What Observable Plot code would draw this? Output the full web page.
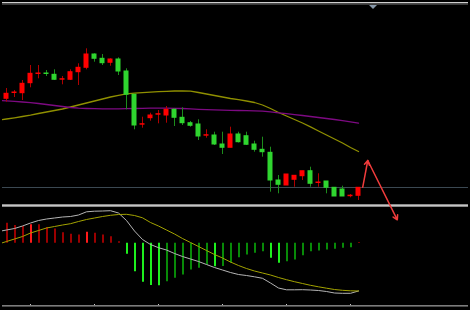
<!DOCTYPE html>
<html><head><meta charset="utf-8">
<script src="https://cdn.jsdelivr.net/npm/d3@7"></script>
<script src="https://cdn.jsdelivr.net/npm/@observablehq/plot@0.6"></script>
<style>
html,body{margin:0;padding:0;background:#000;overflow:hidden;}
#chart{position:relative;width:470px;height:310px;background:#000;clip-path:inset(0px 2px 0px 2px);}
#chart > *{position:absolute;left:0;}
.bar{position:absolute;left:0;width:470px;height:1px;}
</style></head><body><div id="chart"></div>
<script>
// ---- candle data (bar index 0..44), arbitrary price units ----
const open  = [111.7,117.5,117.3,127.3,136.5,137,135.7,130.8,130.7,138.3,142.7,156,151.7,147.7,151,139,115.7,85.8,92.3,95.8,95,100.7,92.7,87.3,86,74.8,75,66,62.7,76,74.3,66,60.7,57.7,30,25,30.7,34.3,39.3,27.5,29,22.7,21,14.3,14.7];
const high  = [122,120,130,145,145,140,140.7,134,140.7,146.7,161.7,156.7,156,151.7,152.7,141.7,115.7,93.3,97.3,100,104,101.7,102.7,89,90.7,80.7,78.3,78.3,83.3,78.3,78.3,69.3,73.3,63.3,35,36,35,39.3,43.3,36.7,29,22.7,24.3,16,22.7];
const low   = [108.3,113,110,122.7,131.7,134,130,125.7,130,125,140.7,148.3,145,144.3,135,100.7,80.7,82.3,89.3,86.7,87.3,84,85,83.3,70,72.3,65,56,62.7,67.5,65,58.3,53.3,18.3,16.7,25,23.3,30,23.3,23.3,16.7,14,14,12.7,10];
const close = [116.7,118,126.7,136.7,137,136.5,130.7,131.3,138.3,142.7,156,151.7,147.3,151,139,115.7,85,86.3,95,96.3,100.7,92.7,87.3,84.7,74,75.3,66,62.7,76,68.3,65.7,60.7,58.3,30,25.7,36,34.7,39.3,26.7,28,22.7,14,14,14.8,22.7];

// ---- moving averages (bar index -1..44) ----
const maFast = [90.3,91.5,92.7,94,95.4,97,98.5,100,101.5,103.5,105.5,107.5,109.5,111.5,113.5,115.2,116.7,117.3,117.8,118.3,118.8,119.2,119.5,119.5,119.3,118,116.5,115,113.5,112,110.8,109.5,108,105.5,102,98,94.5,91,87.5,83.7,79.5,75.5,71.5,67.5,63,59];
const maSlow = [110,109.7,109.2,108.5,107.8,107,106,105,104,103,102.3,102,101.8,101.7,101.7,101.7,101.8,102,102.2,102.3,102.3,102.3,102.2,102,101.6,101.2,100.9,100.6,100.4,100.2,100,99.8,99.6,99.4,98.6,97.7,96.8,95.9,95,94,93,92,91,89.8,88.6,87.3];

// horizontal price level and drawn arrow (bar index, price)
const levelPrice = 23;
const arrowK = [44.53, 45.16, 48.85];
const arrowP = [23.3, 50, -9.3];

// ---- oscillator (histogram index 0..44, lines index -1..44) ----
const macdHist = [2.00,1.78,1.68,1.86,1.85,1.58,1.43,1.06,0.90,0.83,1.10,1.00,0.83,0.66,0.16,-1.09,-2.84,-3.90,-4.23,-4.24,-3.84,-3.50,-3.17,-2.67,-2.50,-2.17,-2.34,-2.32,-2.00,-1.44,-1.17,-1.00,-0.84,-1.50,-2.00,-1.84,-1.67,-1.24,-0.84,-0.77,-0.67,-0.60,-0.50,-0.44,0.08];
const macdMain = [1.18,1.33,1.48,1.73,2.03,2.28,2.43,2.53,2.63,2.68,2.83,3.15,3.21,3.23,3.26,3.03,2.28,1.23,0.38,-0.12,-0.44,-0.67,-1.02,-1.32,-1.57,-1.82,-2.12,-2.42,-2.67,-2.92,-3.12,-3.22,-3.35,-3.50,-3.97,-4.47,-4.65,-4.65,-4.64,-4.67,-4.72,-4.82,-4.97,-5.00,-5.00,-4.77];
const macdSignal = [-0.07,0.18,0.43,0.68,1.03,1.28,1.53,1.68,1.83,1.96,2.18,2.38,2.53,2.68,2.80,2.88,2.90,2.78,2.55,2.08,1.73,1.33,0.93,0.48,0.08,-0.32,-0.72,-1.12,-1.47,-1.87,-2.22,-2.52,-2.77,-2.97,-3.17,-3.42,-3.64,-3.84,-4.02,-4.20,-4.35,-4.49,-4.62,-4.70,-4.75,-4.77];
const timeTicks = [3, 11, 19, 27, 35, 43];

// ---- build tables ----
const candles = open.map((o, i) => ({k: i, open: o, high: high[i], low: low[i], close: close[i], up: close[i] > o}));
const lineIdx = d3.range(-1, 45);
const maRows = lineIdx.map((k, i) => ({k, fast: maFast[i], slow: maSlow[i]}));
const oscRows = lineIdx.map((k, i) => ({k, main: macdMain[i], signal: macdSignal[i]}));
const histRows = macdHist.map((v, i) => {
  const grow = i > 0 && Math.abs(v) > Math.abs(macdHist[i - 1]);
  const color = v >= 0 ? (grow ? "#ff1a1a" : "#9b0000") : (grow ? "#1ef01e" : "#088a08");
  return {k: i, v, color};
});
const arrows = [
  {x1: arrowK[0], y1: arrowP[0], x2: arrowK[1], y2: arrowP[1]},
  {x1: arrowK[1], y1: arrowP[1], x2: arrowK[2], y2: arrowP[2]}
];

const xDomain = [-0.75, 58];
const root = document.getElementById("chart");

// lower panel
const lower = Plot.plot({
  width: 470, height: 107,
  marginTop: 0, marginRight: 0, marginBottom: 6, marginLeft: 0,
  x: {domain: xDomain, ticks: timeTicks, tickSize: 2, tickFormat: () => "", label: null},
  y: {domain: [-6.12, 3.98], axis: null},
  color: {type: "identity"},
  style: {background: "transparent", color: "#c8c8c8", overflow: "visible"},
  marks: [
    Plot.ruleX(histRows, {x: "k", y1: 0, y2: "v", stroke: "color", strokeWidth: 2, dx: 0.5}),
    Plot.lineY(oscRows, {x: "k", y: "main", stroke: "#b4b4b4", strokeWidth: 1}),
    Plot.lineY(oscRows, {x: "k", y: "signal", stroke: "#a3a300", strokeWidth: 1})
  ]
});
lower.style.top = "203px";
root.appendChild(lower);

// frame chrome
function bar(top, color) {
  const d = document.createElement("div");
  d.className = "bar"; d.style.top = top + "px"; d.style.background = color;
  root.appendChild(d);
}
bar(2, "#cfcfcf"); bar(3, "#4a4a4a"); bar(4, "#3a3a3a");
bar(204, "#8a8a8a"); bar(205, "#c4c4c4"); bar(206, "#8a8a8a");
bar(305, "#7c7c7c"); bar(306, "#4a4a4a");
const tri = document.createElement("div");
Object.assign(tri.style, {left: "369px", top: "5px", width: "0", height: "0",
  borderLeft: "4px solid transparent", borderRight: "4px solid transparent", borderTop: "4px solid #8797a8"});
root.appendChild(tri);

// upper panel
const upper = Plot.plot({
  width: 470, height: 310,
  marginTop: 0, marginRight: 0, marginBottom: 105, marginLeft: 0,
  x: {domain: xDomain, axis: null},
  y: {domain: [5, 210], axis: null},
  color: {type: "identity"},
  style: {background: "transparent", overflow: "visible"},
  marks: [
    Plot.ruleY([levelPrice], {stroke: "#3b4852", strokeWidth: 1}),
    Plot.lineY(maRows, {x: "k", y: "fast", stroke: "#8f8f00", strokeWidth: 1.3}),
    Plot.lineY(maRows, {x: "k", y: "slow", stroke: "#7d0a82", strokeWidth: 1.3}),
    Plot.ruleX(candles, {x: "k", y1: "low", y2: "high", stroke: d => d.up ? "#b00000" : "#1c8c1c", strokeWidth: 1}),
    Plot.rect(candles, {x1: d => d.k - 0.3125, x2: d => d.k + 0.3125, y1: "open", y2: "close",
      fill: d => d.up ? "#ff0000" : "#2fd52f", insetTop: -0.5, insetBottom: -0.5}),
    Plot.arrow(arrows, {x1: "x1", y1: "y1", x2: "x2", y2: "y2", stroke: "#f03c3c", strokeWidth: 1.5, headLength: 5})
  ]
});
upper.style.top = "0px";
root.appendChild(upper);
</script>
</body></html>
